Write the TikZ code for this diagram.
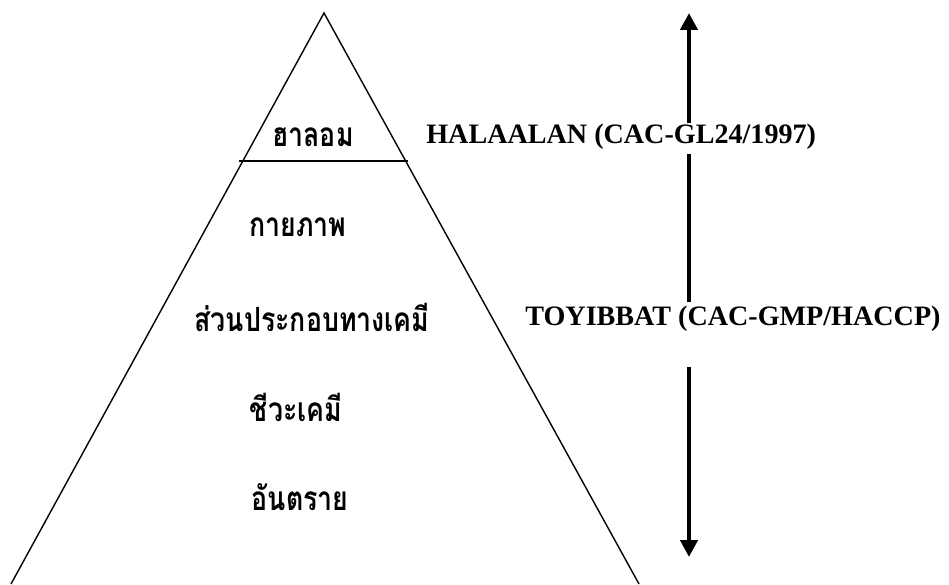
\documentclass[tikz,border=0pt]{standalone}
\usepackage{fontspec}
\setmainfont{Liberation Serif}
\newfontfamily\thaifont[Script=Thai,FakeStretch=0.8]{Loma}
\usetikzlibrary{arrows.meta,positioning}
\tikzset{
  >={Triangle[length=3.4mm,width=3.4mm]},
  level/.style={font=\thaifont\bfseries\fontsize{19}{22}\selectfont,inner sep=1pt},
  norm/.style={font=\bfseries\fontsize{16}{19}\selectfont,anchor=base west,inner sep=0pt},
  flow/.style={line width=2.7pt},
  side/.style={line width=0.8pt},
}

\begin{document}
\begin{tikzpicture}
  \useasboundingbox (0,0) rectangle (18.98,11.68);
  % pyramid
  \coordinate (apex) at (6.48,11.42);
  \coordinate (bl) at (0.22,0);
  \coordinate (br) at (12.78,0);
  \draw[side] (bl) -- (apex) -- (br);
  \coordinate (cl) at (4.78,8.46);
  \coordinate (cr) at (8.16,8.46);
  \draw[side] (cl) -- (cr);
  % levels
  \node[level] (halaal) at (6.26,8.94) {ฮาลอม};
  \node[level] (phys) at (5.96,7.14) {กายภาพ};
  \node[level] (chem) at (6.24,5.34) {ส่วนประกอบทางเคมี};
  \node[level] (bio) at (5.92,3.54) {ชีวะเคมี};
  \node[level] (haz) at (6.00,1.74) {อันตราย};
  % standards
  \node[norm] (halalan) at (8.52,8.80) {HALAALAN (CAC-GL24/1997)};
  \node[norm] (toyib) at (10.50,5.16) {TOYIBBAT (CAC-GMP/HACCP)};
  % arrow
  \coordinate (top) at (13.78,11.42);
  \coordinate (bot) at (13.78,0.54);
  \coordinate (q1) at (13.78,9.22);
  \coordinate (q2) at (13.78,8.60);
  \coordinate (q3) at (13.78,5.64);
  \coordinate (q4) at (13.78,4.34);
  \draw[flow,->] (q1) -- (top);
  \draw[flow] (q2) -- (q3);
  \draw[flow,->] (q4) -- (bot);
\end{tikzpicture}
\end{document}
